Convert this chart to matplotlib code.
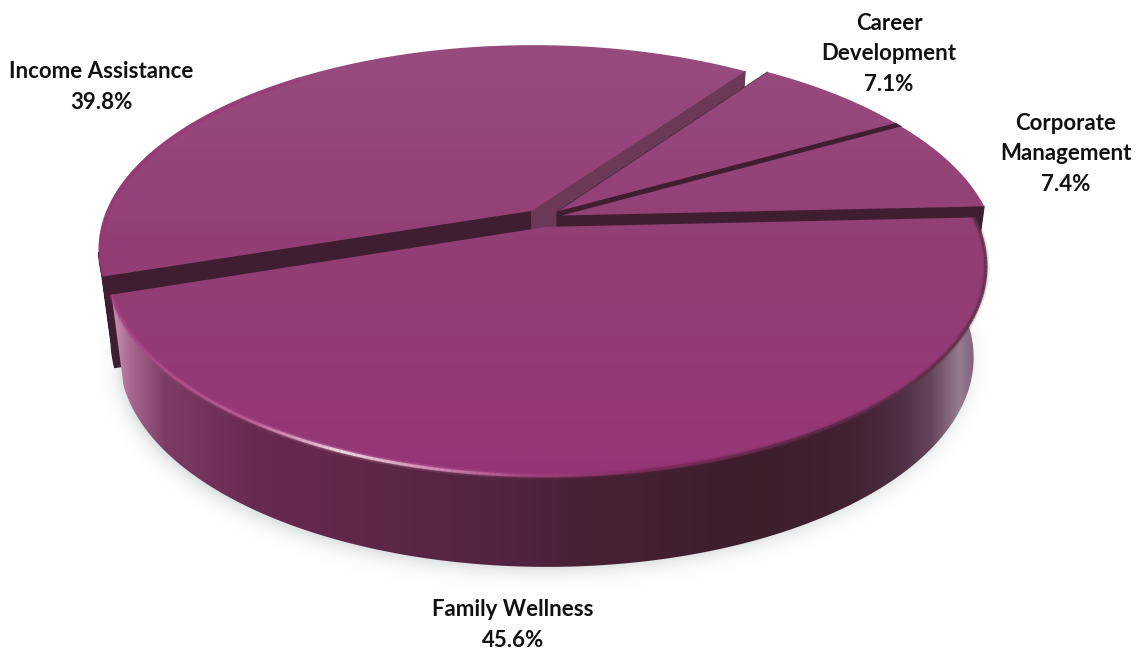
import numpy as np
import matplotlib
matplotlib.use("Agg")
import matplotlib.pyplot as plt
from matplotlib.patches import Polygon
from matplotlib.path import Path
from matplotlib.collections import LineCollection

# Program shares, counter-clockwise from the right-hand edge of the disc
names = ["Corporate\nManagement", "Career\nDevelopment", "Income Assistance", "Family Wellness"]
shares = [7.4, 7.1, 39.8, 45.6]
label_pos = [(1066, 154), (889, 54), (101, 87), (513, 625)]

START_DEG = 2.7
EXPLODE = 0.045
CX, CY = 543, 218
RX, RY, PERSP = 428, 199, 0.186
THICK, SHRINK = 91, 0.972
W, H = 1136, 651

WALL_DARK = "#3e1e30"
WALL_MID = "#6c3858"

RIM_STOPS = [(97, (165, 60, 130)), (250, (190, 95, 148)), (340, (250, 228, 238)),
             (420, (222, 155, 192)), (520, (165, 70, 130)), (650, (122, 42, 88)),
             (800, (92, 40, 72)), (990, (92, 50, 72))]
SIDE_STOPS = [(112, (200, 150, 180)), (130, (170, 105, 145)), (165, (125, 60, 100)),
              (250, (105, 42, 80)), (400, (92, 38, 70)), (500, (82, 36, 64)),
              (600, (70, 33, 52)), (750, (60, 30, 45)), (850, (66, 33, 50)),
              (900, (78, 46, 66)), (930, (100, 68, 90)), (960, (150, 125, 145)),
              (975, (130, 95, 125))]
FACE_STOPS = [(45, (152, 76, 126)), (250, (146, 62, 116)), (450, (150, 55, 118)), (480, (150, 52, 118))]


def project(x, y):
    w = 1 + PERSP * y
    return CX + RX * x / w, CY - RY * y / w


def drop(sx, sy):
    return CX + (sx - CX) * SHRINK, sy + THICK


def ramp(stops, coords):
    pos = [s[0] for s in stops]
    return np.stack([np.interp(coords, pos, [s[1][i] / 255 for s in stops]) for i in range(3)], axis=-1)


fig = plt.figure(figsize=(W / 100, H / 100), dpi=100)
ax = fig.add_axes([0, 0, 1, 1])

total = sum(shares)
bounds = START_DEG + np.cumsum([0] + shares) / total * 360
slices = []
for i, share in enumerate(shares):
    a0, a1 = np.radians(bounds[i]), np.radians(bounds[i + 1])
    mid = (a0 + a1) / 2
    ox, oy = EXPLODE * np.cos(mid), EXPLODE * np.sin(mid)
    t = np.linspace(a0, a1, 240)
    arc_pts = project(ox + np.cos(t), oy + np.sin(t))
    apex = project(ox, oy)
    slices.append(dict(apex=np.array(apex), arc=np.column_stack(arc_pts), t=t))


def outline_mask():
    # Footprint of the lower disc, shifted down for the cast shadow
    yy, xx = np.mgrid[0:H, 0:W]
    t = np.linspace(0, 2 * np.pi, 360)
    sx, sy = project(np.cos(t), np.sin(t))
    bx, by = drop(sx, sy)
    path = Path(np.column_stack([bx, by + 14]))
    inside = path.contains_points(np.column_stack([xx.ravel(), yy.ravel()])).reshape(H, W).astype(float)
    sigma = 10
    k = np.exp(-0.5 * (np.arange(-30, 31) / sigma) ** 2)
    k /= k.sum()
    for axis in (0, 1):
        inside = np.apply_along_axis(lambda r: np.convolve(r, k, mode="same"), axis, inside)
    return inside


mask = outline_mask()
shadow = np.zeros((H, W, 4))
shadow[..., :3] = (0.72, 0.75, 0.77)
shadow[..., 3] = np.clip(mask * 0.8, 0, 1)
ax.imshow(shadow, extent=(0, W, H, 0), aspect="auto", zorder=1)

yy = np.arange(H)[:, None] + 0.5
face_img = np.repeat(ramp(FACE_STOPS, yy[:, 0])[:, None, :], 4, axis=1)
xs = np.arange(W) + 0.5
side_img = np.repeat(ramp(SIDE_STOPS, xs)[None, :, :], 4, axis=0)


def flat(points, color, z):
    ax.add_patch(Polygon(points, closed=True, facecolor=color, edgecolor=color, lw=0.8,
                         joinstyle="round", zorder=z))


def extrude(points):
    bx, by = drop(points[:, 0], points[:, 1])
    return np.vstack([points, np.column_stack([bx, by])[::-1]])


def clipped(img, points, z):
    im = ax.imshow(img, extent=(0, W, H, 0), aspect="auto", zorder=z, interpolation="bilinear")
    patch = Polygon(points, closed=True, transform=ax.transData)
    im.set_clip_path(patch)
    return patch


def rim(arc, widths, alphas, z):
    segs = np.stack([arc[:-1], arc[1:]], axis=1)
    cols = ramp(RIM_STOPS, (arc[:-1, 0] + arc[1:, 0]) / 2)
    for lw, alpha in zip(widths, alphas):
        ax.add_collection(LineCollection(segs, colors=np.column_stack([cols, np.full(len(cols), alpha)]),
                                         linewidths=lw, capstyle="butt", zorder=z))


# Dark seam between the career and corporate slices, out to the disc edge
corp, career = slices[0], slices[1]
flat(np.array([corp["apex"], corp["arc"][-1], career["arc"][0], career["apex"]]), WALL_DARK, 25)

# Painted back to front: income, career, corporate, then the family slice on top
for order, idx in enumerate([2, 1, 0, 3]):
    s = slices[idx]
    base = 10 + order * 10
    apex, arc = s["apex"], s["arc"]
    first, last = arc[0], arc[-1]
    is_income = idx == 2
    if idx == 3:
        clipped(side_img, extrude(arc), base)
    else:
        # Only the outer wall that clearly faces the viewer needs painting
        front = arc[np.sin(s["t"]) < -0.2]
        if len(front) > 1:
            flat(extrude(front), WALL_DARK, base)
        # Cut faces sit behind the neighbouring slice; the income edge facing right catches more light
        flat(extrude(np.array([apex, last])), WALL_DARK, base + 1)
        flat(extrude(np.array([apex, first])), WALL_MID if is_income else WALL_DARK, base + 1)
    top = np.vstack([apex, arc])
    top_patch = clipped(face_img, top, base + 2)
    if idx == 3:
        rim(arc, (5, 3, 2.0), (0.12, 0.25, 0.9), base + 3)
    elif is_income:
        left = arc[arc[:, 0] < 300]
        glow, = ax.plot(left[:, 0], left[:, 1], color="#a0307c", lw=6, alpha=0.4, zorder=base + 3)
        glow.set_clip_path(top_patch)

for name, share, (lx, ly) in zip(names, shares, label_pos):
    ax.text(lx, ly, f"{name}\n{share:.1f}%", ha="center", va="center", family="Lato",
            fontweight="bold", fontsize=16, color="#111111", linespacing=1.58, zorder=100)

ax.set_xlim(0, W)
ax.set_ylim(H, 0)
ax.axis("off")
fig.savefig("out.png", dpi=100, facecolor="white")
